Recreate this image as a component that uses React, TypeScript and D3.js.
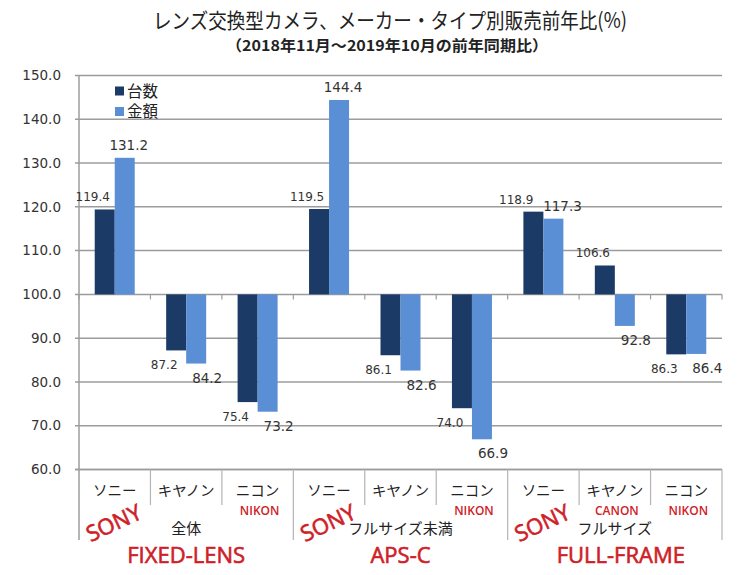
import React from 'react';
import * as d3 from 'd3';

// ---- data ----
const categories = ['ソニー', 'キヤノン', 'ニコン', 'ソニー', 'キヤノン', 'ニコン', 'ソニー', 'キヤノン', 'ニコン'];
const groups = ['全体', 'フルサイズ未満', 'フルサイズ'];
const groupsEnglish = ['FIXED-LENS', 'APS-C', 'FULL-FRAME'];
const brandLarge = ['SONY', '', '', 'SONY', '', '', 'SONY', '', ''];
const brandSmall = ['', '', 'NIKON', '', '', 'NIKON', '', 'CANON', 'NIKON'];
const seriesNames = ['台数', '金額'];
const unitsValues = [119.4, 87.2, 75.4, 119.5, 86.1, 74.0, 118.9, 106.6, 86.3];
const amountValues = [131.2, 84.2, 73.2, 144.4, 82.6, 66.9, 117.3, 92.8, 86.4];
const yTicks = [60, 70, 80, 90, 100, 110, 120, 130, 140, 150];
const baseline = 100;
const title = 'レンズ交換型カメラ、メーカー・タイプ別販売前年比(%)';
const subtitle = '（2018年11月～2019年10月の前年同期比）';

const W = 750;
const H = 575;
const colors = ['#1c3a66', '#5a8fd5'];
const RED = '#cf2027';
const JP = '"Noto Sans CJK JP", "Noto Sans", sans-serif';
const NUM = '"DejaVu Sans", Verdana, sans-serif';
const LAT = '"Open Sans", "Noto Sans", sans-serif';
const labelSizes = [12, 13.5];

export default function App() {
  const left = 79, right = 722, top = 75.5, axisY = 469.5, boxBottom = 540;
  const x = d3.scaleBand<number>().domain(d3.range(categories.length)).range([left, right]).padding(0);
  const bw = x.bandwidth();
  const inner = d3.scaleBand<string>().domain(seriesNames).range([0, 40]).padding(0);
  const y = d3.scaleLinear().domain([60, 150]).range([axisY, top]);
  const series = [unitsValues, amountValues];
  const groupSize = 3;
  const fmt = d3.format('.1f');
  const barX = (i: number, s: number) => (x(i) as number) + bw / 2 - 20 + (inner(seriesNames[s]) as number);

  // label layout: default offsets, then push apart when the pair collides
  const labels = categories.map((_, i) => {
    const ls = series.map((vals, s) => {
      const v = vals[i];
      const pos = v >= baseline;
      const cx = barX(i, s) + inner.bandwidth() / 2;
      const dx = s === 0 ? -12 : pos ? 4 : 11;
      const ly = pos ? y(v) - 8 : y(v) + 19;
      const w = fmt(v).length * 0.6 * labelSizes[s];
      return { s, v, x: cx + dx, y: ly, w };
    });
    const [a, b] = ls;
    if (Math.abs(a.y - b.y) < 14) {
      const overlap = a.x + a.w / 2 + 8 - (b.x - b.w / 2);
      if (overlap > 0) {
        a.x -= overlap / 2;
        b.x += overlap / 2;
      }
    }
    return ls;
  });

  return (
    <svg width={W} height={H} style={{ position: 'absolute', left: 0, top: 0, background: '#fff' }}>
      <rect x={0} y={0} width={W} height={H} fill="#fff" />
      {/* titles */}
      <text x={390} y={28} textAnchor="middle" fontFamily={JP} fontSize={21} fill="#222"
        textLength={474} lengthAdjust="spacingAndGlyphs">{title}</text>
      <text x={387} y={51} textAnchor="middle" fontFamily={JP} fontSize={15} fontWeight={700} fill="#222"
        textLength={322} lengthAdjust="spacingAndGlyphs">{subtitle}</text>

      {/* gridlines + y axis */}
      {yTicks.map((t) => (
        <g key={t}>
          <line x1={left - 4} x2={right} y1={y(t)} y2={y(t)} stroke="#9c9c9c" strokeWidth={1.5} />
          <text x={61} y={y(t)} dy="0.35em" textAnchor="end" fontFamily={NUM} fontSize={13.5} fill="#333">
            {fmt(t)}
          </text>
        </g>
      ))}
      <line x1={left} x2={left} y1={top} y2={boxBottom} stroke="#9c9c9c" strokeWidth={1.5} />

      {/* tick marks on baseline */}
      {d3.range(categories.length + 1).map((i) => (
        <line key={'bt' + i} x1={left + i * bw} x2={left + i * bw} y1={y(baseline)} y2={y(baseline) + 5}
          stroke="#9c9c9c" strokeWidth={1.2} />
      ))}

      {/* bars */}
      {series.map((vals, s) =>
        vals.map((v, i) => {
          const y0 = y(baseline), y1 = y(v);
          return (
            <rect key={s + '-' + i} x={barX(i, s)} y={Math.min(y0, y1)} width={inner.bandwidth()}
              height={Math.abs(y1 - y0)} fill={colors[s]} />
          );
        })
      )}

      {/* value labels */}
      {labels.flat().map((l, k) => (
        <text key={'l' + k} x={l.x} y={l.y} textAnchor="middle" fontFamily={NUM}
          fontSize={labelSizes[l.s]} fill="#333">
          {fmt(l.v)}
        </text>
      ))}

      {/* legend */}
      {seriesNames.map((n, s) => (
        <g key={n} transform={`translate(115, ${86.5 + s * 20.5})`}>
          <rect x={0} y={0} width={9} height={9} fill={colors[s]} />
          <text x={12} y={4.5} dy="0.37em" fontFamily={JP} fontSize={15.5} fill="#222">{n}</text>
        </g>
      ))}

      {/* category axis boxes */}
      <line x1={left - 4} x2={right} y1={axisY} y2={axisY} stroke="#9c9c9c" strokeWidth={1.5} />
      {d3.range(1, categories.length + 1).map((i) => {
        const isGroup = i % groupSize === 0;
        return (
          <line key={'sep' + i} x1={left + i * bw} x2={left + i * bw} y1={axisY}
            y2={isGroup ? boxBottom : 505} stroke="#b4b4b4" strokeWidth={1.2} />
        );
      })}
      {categories.map((c, i) => (
        <text key={'c' + i} x={(x(i) as number) + bw / 2} y={491} dy="0.35em" textAnchor="middle"
          fontFamily={JP} fontSize={14.5} fill="#222">{c}</text>
      ))}
      {groups.map((g, gi) => (
        <text key={'g' + gi} x={left + (gi + 0.5) * groupSize * bw} y={529} dy="0.35em" textAnchor="middle"
          fontFamily={JP} fontSize={15} fill="#222">{g}</text>
      ))}

      {/* red annotations */}
      {brandSmall.map((b, i) => b ? (
        <text key={'bs' + i} x={(x(i) as number) + bw / 2 + 2} y={510.5} dy="0.35em" textAnchor="middle"
          fontFamily={LAT} fontWeight={600} fontSize={12} fill={RED}>{b}</text>
      ) : null)}
      {brandLarge.map((b, i) => b ? (
        <text key={'bl' + i} transform={`translate(${(x(i) as number) + bw / 2 - 1}, 523) rotate(-25)`}
          textAnchor="middle" dy="0.35em" fontFamily={LAT} fontSize={22} fill={RED}
          stroke={RED} strokeWidth={0.6}>{b}</text>
      ) : null)}
      {groupsEnglish.map((g, gi) => (
        <text key={'ge' + gi} x={left + (gi + 0.5) * groupSize * bw + (gi === 2 ? 6 : 0)} y={555} dy="0.35em"
          textAnchor="middle" fontFamily={LAT} fontSize={22} fill={RED}
          stroke={RED} strokeWidth={0.6}>{g}</text>
      ))}
    </svg>
  );
}
